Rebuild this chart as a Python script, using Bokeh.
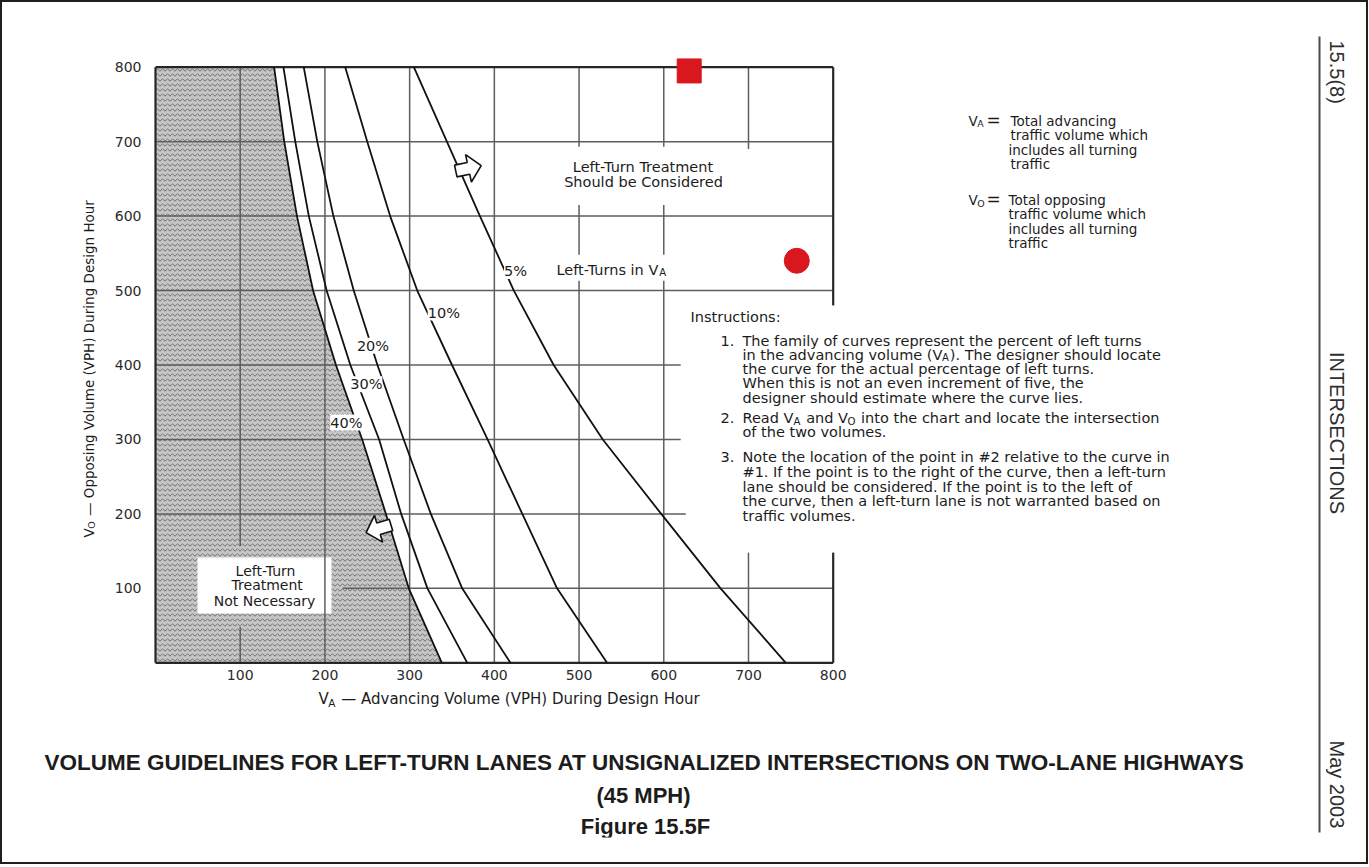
import math
from bokeh.plotting import figure
from bokeh.models import Range1d, Label, FixedTicker
from bokeh.layouts import column
from bokeh.embed import file_html
from bokeh.resources import INLINE
from bokeh.core.properties import value

# ---------------- data ----------------
VO_LEVELS = [0, 100, 200, 300, 400, 500, 600, 700, 800]
VA_40 = [338, 299, 272, 244, 213, 186, 167, 152, 140]
VA_30 = [368, 321, 290, 264, 230, 202, 181, 165, 151]
VA_20 = [419, 362, 325, 293, 262, 234, 210, 191, 175]
VA_10 = [533, 474, 433, 392, 350, 309, 277, 250, 224]
VA_5 = [744, 667, 597, 528, 470, 423, 383, 344, 305]
CURVE_LABELS = ["40%", "30%", "20%", "10%", "5%"]
X_TICKS = [100, 200, 300, 400, 500, 600, 700, 800]
Y_TICKS = [100, 200, 300, 400, 500, 600, 700, 800]
SQUARE_VA = [630]
SQUARE_VO = [795]
CIRCLE_VA = [757]
CIRCLE_VO = [540]

# printed grid pieces (the grid is broken where text sits)
VGRID_X = [100, 100, 200, 300, 400, 500, 500, 500, 600, 600, 600, 700, 700]
VGRID_Y0 = [0, 157, 0, 0, 0, 0, 548, 693, 0, 548, 693, 0, 690]
VGRID_Y1 = [48, 800, 800, 800, 800, 513, 615, 800, 513, 615, 800, 148, 800]
HGRID_Y = [100, 200, 300, 400, 500, 600, 700]
HGRID_X0 = [221, 0, 0, 0, 0, 0, 0]
HGRID_X1 = [800, 626, 620, 620, 800, 800, 800]
FRAME_X0 = [0, 0, 0, 800, 800]
FRAME_Y0 = [0, 0, 800, 0, 480]
FRAME_X1 = [0, 800, 800, 800, 800]
FRAME_Y1 = [800, 0, 800, 148, 800]

# ---------------- geometry (page pixels) ----------------
O = 2                                      # page border width
W, H = 1364, 860                           # figure canvas
FL, FR, FT, FB = O + 34, O + W, O, O + H - 25
PX0, PX800 = 155.0, 832.7                  # where VA = 0 / 800 sit
PY0, PY800 = 662.3, 66.7                   # where VO = 0 / 800 sit
SX = (PX800 - PX0) / 800.0
SY = (PY0 - PY800) / 800.0


def X(px):
    return (px - PX0) / SX


def Y(py):
    return (PY0 - py) / SY


p = figure(width=W, height=H, title=None,
           x_range=Range1d(X(FL), X(FR)), y_range=Range1d(Y(FB), Y(FT)),
           output_backend="svg", toolbar_location=None,
           min_border_left=FL - O, min_border_right=0,
           min_border_top=0, min_border_bottom=O + H - FB)
p.outline_line_color = None
p.xgrid.visible = False
p.ygrid.visible = False
p.background_fill_color = "white"
p.border_fill_color = "white"

for ax, ticks, loc, standoff in ((p.xaxis[0], X_TICKS, 0, 7), (p.yaxis[0], Y_TICKS, X(141), 0)):
    ax.ticker = FixedTicker(ticks=ticks)
    ax.fixed_location = loc
    ax.axis_line_color = None
    ax.major_tick_line_color = None
    ax.minor_tick_line_color = None
    ax.major_tick_out = 0
    ax.major_tick_in = 0
    ax.major_label_standoff = standoff
    ax.major_label_text_font = "DejaVu Sans"
    ax.major_label_text_font_size = "14px"
    ax.major_label_text_color = "#2a2a2a"

# shaded "not necessary" area bounded by the 40% curve
shade_x = [0] + VA_40 + [0]
shade_y = [0] + VO_LEVELS + [800]
p.patch(shade_x, shade_y, fill_color="#c6c6c6", line_color=None,
        hatch_pattern="horizontal_wave", hatch_color="#4a4a4a",
        hatch_scale=5, hatch_weight=0.8, hatch_alpha=0.9)

# white box behind "Left-Turn Treatment Not Necessary"
p.quad(left=[X(197)], right=[X(331)], bottom=[Y(613)], top=[Y(557)],
       fill_color="white", line_color=None)

# grid and frame
p.segment(x0=VGRID_X, y0=VGRID_Y0, x1=VGRID_X, y1=VGRID_Y1,
          line_color="#5e5e5e", line_width=1.5)
p.segment(x0=HGRID_X0, y0=HGRID_Y, x1=HGRID_X1, y1=HGRID_Y,
          line_color="#5e5e5e", line_width=1.5)
p.segment(x0=FRAME_X0, y0=FRAME_Y0, x1=FRAME_X1, y1=FRAME_Y1,
          line_color="#262626", line_width=2.2)

# curves
for xs in (VA_40, VA_30, VA_20, VA_10, VA_5):
    p.line(xs, VO_LEVELS, line_color="#111111", line_width=1.8)

# hollow block arrows
ARROW_SHAPE = [(-12, -6), (1, -6), (1, -14), (14, 0), (1, 14), (1, 6), (-12, 6)]


def block_arrow(cx, cy, deg):
    a = math.radians(deg)
    xs, ys = [], []
    for dx, dy in ARROW_SHAPE:
        rx = dx * math.cos(a) - dy * math.sin(a)
        ry = dx * math.sin(a) + dy * math.cos(a)
        xs.append(X(cx + rx))
        ys.append(Y(cy - ry))
    p.patch(xs, ys, fill_color="white", line_color="#111111", line_width=1.6)


block_arrow(467, 168, 12)
block_arrow(379, 528, 197)

# user points
p.scatter(SQUARE_VA, SQUARE_VO, marker="square", size=24, fill_color="#d9171e", line_color="#d9171e")
p.scatter(CIRCLE_VA, CIRCLE_VO, marker="circle", size=25, fill_color="#d9171e", line_color="#d9171e")

# ---------------- text helpers ----------------
DV = {' ': .318, '(': .390, ')': .390, '-': .361, '.': .318, ',': .318, ':': .337,
      '%': .950, '=': .838, '\u2014': 1.0, '#': .838,
      'A': .684, 'B': .686, 'C': .698, 'D': .770, 'E': .632, 'F': .575, 'G': .775,
      'H': .752, 'I': .295, 'J': .295, 'K': .656, 'L': .557, 'M': .863, 'N': .748,
      'O': .787, 'P': .603, 'Q': .787, 'R': .695, 'S': .635, 'T': .611, 'U': .732,
      'V': .684, 'W': .989, 'X': .685, 'Y': .611, 'Z': .685,
      'a': .613, 'b': .635, 'c': .550, 'd': .635, 'e': .615, 'f': .352, 'g': .635,
      'h': .634, 'i': .278, 'j': .278, 'k': .579, 'l': .278, 'm': .974, 'n': .634,
      'o': .612, 'p': .635, 'q': .635, 'r': .411, 's': .521, 't': .392, 'u': .634,
      'v': .592, 'w': .818, 'x': .592, 'y': .592, 'z': .525}
INK = "#1c1c1c"
CAD = "DejaVu Sans"


def tw(s, size):
    return sum(DV.get(c, .636) for c in s) * size


def lab(px, py, text, size=14, align="left", font=CAD, style="normal",
        angle=0.0, bg=None, color=INK):
    kw = dict(x=X(px), y=Y(py), text=text, text_font=font,
              text_font_size=f"{size}px", text_align=align, text_baseline="middle",
              text_font_style=style, angle=angle, text_color=color)
    if bg is not None:
        kw["background_fill_color"] = bg
    p.add_layout(Label(**kw))


def rich(px, py, pieces, size, vertical=False):
    cur = 0.0
    for piece in pieces:
        txt, sub = piece[0], piece[1]
        kern = piece[2] if len(piece) > 2 else 0.0
        s = size * 0.7 if sub else size
        off = size * 0.24 if sub else 0.0
        lead = len(txt) - len(txt.lstrip(" "))
        cur += tw(" " * lead, s) + kern
        body = txt.strip(" ")
        if sub:
            cur -= 0.5
        if vertical:
            lab(px + off, py - cur, body, s, angle=math.pi / 2)
        else:
            lab(px + cur, py + off, body, s)
        cur += tw(body, s) + (1.0 if sub else 0.0)


# axis titles
rich(318, 698.5, [("V", 0), ("A", 1), (" \u2014 Advancing Volume (VPH) During Design Hour", 0)], 15)
rich(88, 537, [("V", 0), ("O", 1), (" \u2014 Opposing Volume (VPH) During Design Hour", 0)], 13.5, vertical=True)

# curve labels
CURVE_LABEL_POS = [(345.8, 422), (365.8, 383.8), (372.5, 345.3), (443.3, 312), (515, 270.5)]
for t, (cx, cy) in zip(CURVE_LABELS, CURVE_LABEL_POS):
    lab(cx, cy, t, 14.5, align="center", bg="white")

lab(642.5, 166.7, "Left-Turn Treatment", 14.5, align="center")
lab(643, 181.7, "Should be Considered", 14.5, align="center")
rich(556, 269, [("Left-Turns in V", 0), ("A", 1, -3.0)], 14.5)

lab(265, 570, "Left-Turn", 14, align="center")
lab(266.7, 584.3, "Treatment", 14, align="center")
lab(264, 600, "Not Necessary", 14, align="center")

# definitions
rich(968, 120, [("V", 0), ("A", 1)], 13.5)
lab(986, 119, "=", 17)
lab(1010, 120, "Total advancing", 13.5)
lab(1010, 134.3, "traffic volume which", 13.5)
lab(1008, 149.3, "includes all turning", 13.5)
lab(1010, 163.3, "traffic", 13.5)
rich(968, 199.3, [("V", 0), ("O", 1)], 13.5)
lab(986, 198.3, "=", 17)
lab(1008, 199.3, "Total opposing", 13.5)
lab(1008, 213.3, "traffic volume which", 13.5)
lab(1008, 228.3, "includes all turning", 13.5)
lab(1008, 242.7, "traffic", 13.5)

# instructions
IS = 14.5
lab(690, 316.7, "Instructions:", IS)
lab(720, 340, "1.", IS)
lab(742, 340, "The family of curves represent the percent of left turns", IS)
rich(742, 354, [("in the advancing volume (V", 0), ("A", 1), ("). The designer should locate", 0)], IS)
lab(742, 368.3, "the curve for the actual percentage of left turns.", IS)
lab(742, 382.7, "When this is not an even increment of five, the", IS)
lab(742, 397.3, "designer should estimate where the curve lies.", IS)
lab(720, 417.3, "2.", IS)
rich(742, 417.3, [("Read V", 0), ("A", 1), (" and V", 0), ("O", 1),
                  (" into the chart and locate the intersection", 0)], IS)
lab(742, 431.7, "of the two volumes.", IS)
lab(720, 456, "3.", IS)
lab(742, 456, "Note the location of the point in #2 relative to the curve in", IS)
lab(742, 471, "#1. If the point is to the right of the curve, then a left-turn", IS)
lab(742, 486, "lane should be considered. If the point is to the left of", IS)
lab(742, 500.7, "the curve, then a left-turn lane is not warranted based on", IS)
lab(742, 515, "traffic volumes.", IS)

# figure caption
TF = "Liberation Sans"
lab(644, 761.5, "VOLUME GUIDELINES FOR LEFT-TURN LANES AT UNSIGNALIZED INTERSECTIONS ON TWO-LANE HIGHWAYS",
    22.5, align="center", font=TF, style="bold")
lab(643, 795, "(45 MPH)", 22, align="center", font=TF, style="bold")
lab(645, 826, "Figure 15.5F", 22, align="center", font=TF, style="bold")

# ---------------- right-hand page strip ----------------
p.segment(x0=[X(1319)], y0=[Y(36)], x1=[X(1319)], y1=[Y(832)], line_color="#4a4a4a", line_width=2)
SIDE_TEXT = ["15.5(8)", "INTERSECTIONS", "May 2003"]
SIDE_Y = [40, 432.5, 740]
SIDE_ALIGN = ["left", "center", "left"]
for t, yy, al in zip(SIDE_TEXT, SIDE_Y, SIDE_ALIGN):
    p.text(x=[X(1336)], y=[Y(yy)], text=[t], angle=-math.pi / 2, text_align=al,
           text_baseline="middle", text_font=value("Liberation Sans"),
           text_font_size="20px", text_color="#2e2e2e")

page = column(p, styles={"border": f"{O}px solid #1f1f1f"})
open("out.html", "w").write(file_html(page, INLINE))
